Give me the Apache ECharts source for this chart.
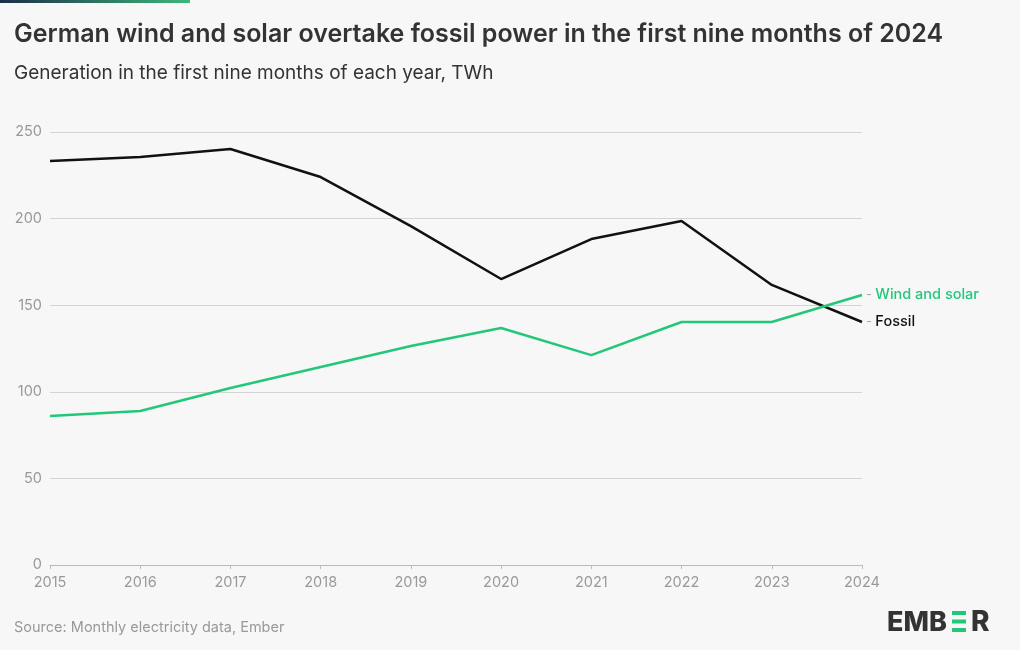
<!DOCTYPE html>
<html><head><meta charset="utf-8">
<script src="https://cdn.jsdelivr.net/npm/echarts@6/dist/echarts.min.js"></script>
<style>html,body{margin:0;padding:0;background:#f7f7f7}#c{width:1020px;height:650px}</style>
</head><body><div id="c"></div>
<script>
const years = ['2015','2016','2017','2018','2019','2020','2021','2022','2023','2024'];
const fossil = [233.3, 235.6, 240.2, 224.0, 195.7, 165.1, 188.2, 198.6, 161.7, 140.3];
const windSolar = [86.0, 88.9, 102.2, 114.3, 126.4, 136.8, 121.2, 140.3, 140.3, 155.9];
const yTicks = [0, 50, 100, 150, 200, 250];

const font = 'Inter, Lato, sans-serif';
const chart = echarts.init(document.getElementById('c'));
chart.setOption({
  backgroundColor: '#f7f7f7',
  animation: false,
  textStyle: {fontFamily: font},
  title: [
    {text: 'German wind and solar overtake fossil power in the first nine months of 2024', left: 14, top: 22, padding: 0,
     textStyle: {fontFamily: font, fontSize: 25, fontWeight: 600, color: '#333'}},
    {text: 'Generation in the first nine months of each year, TWh', left: 14, top: 64, padding: 0,
     textStyle: {fontFamily: font, fontSize: 19, fontWeight: 400, color: '#333'}},
    {text: 'Source: Monthly electricity data, Ember', left: 14, top: 620, padding: 0,
     textStyle: {fontFamily: font, fontSize: 14.5, fontWeight: 400, color: '#999'}}
  ],
  graphic: [
    {type: 'rect', left: 0, top: 0, shape: {width: 190, height: 3},
     style: {fill: new echarts.graphic.LinearGradient(0,0,1,0,[{offset:0,color:'#1c2e4a'},{offset:1,color:'#3cb878'}])}},
    {type: 'text', left: 887, top: 609, style: {text: 'EMB', font: '800 27px Inter, sans-serif', fill: '#333'}},
    {type: 'rect', left: 952, top: 611, shape: {width: 14, height: 4}, style: {fill: '#22c77a'}},
    {type: 'rect', left: 952, top: 619.5, shape: {width: 14, height: 4}, style: {fill: '#22c77a'}},
    {type: 'rect', left: 952, top: 628, shape: {width: 14, height: 4}, style: {fill: '#22c77a'}},
    {type: 'text', left: 971, top: 609, style: {text: 'R', font: '800 28px Inter, sans-serif', fill: '#333'}}
  ],
  grid: {left: 50, right: 158, top: 132, bottom: 85},
  xAxis: {
    type: 'category', data: years, boundaryGap: false,
    axisLine: {lineStyle: {color: '#bbb'}},
    axisTick: {show: true, length: 4, lineStyle: {color: '#bbb'}, alignWithLabel: true},
    axisLabel: {color: '#999', fontSize: 14.5, margin: 10, fontFamily: font}
  },
  yAxis: {
    type: 'value', min: 0, max: 250, interval: 50,
    axisLine: {show: false}, axisTick: {show: false},
    splitLine: {lineStyle: {color: '#d4d4d4'}},
    axisLabel: {color: '#999', fontSize: 14.5, margin: 8, fontFamily: font,
      formatter: v => yTicks.includes(v) ? String(v) : ''}
  },
  series: [
    {name: 'Fossil', type: 'line', data: fossil, symbol: 'none', lineStyle: {color: '#111', width: 2.5},
     itemStyle: {color: '#111'},
     endLabel: {show: true, distance: 4, formatter: '{d|-} {n|Fossil}',
       rich: {d: {color: '#aaa', fontSize: 13, fontFamily: font}, n: {color: '#111', fontSize: 14.5, fontWeight: 500, fontFamily: font}}}},
    {name: 'Wind and solar', type: 'line', data: windSolar, symbol: 'none', lineStyle: {color: '#22c77a', width: 2.5},
     itemStyle: {color: '#22c77a'},
     endLabel: {show: true, distance: 4, formatter: '{d|-} {n|Wind and solar}',
       rich: {d: {color: '#aaa', fontSize: 13, fontFamily: font}, n: {color: '#22c77a', fontSize: 14.5, fontWeight: 500, fontFamily: font}}}}
  ]
});
</script></body></html>
